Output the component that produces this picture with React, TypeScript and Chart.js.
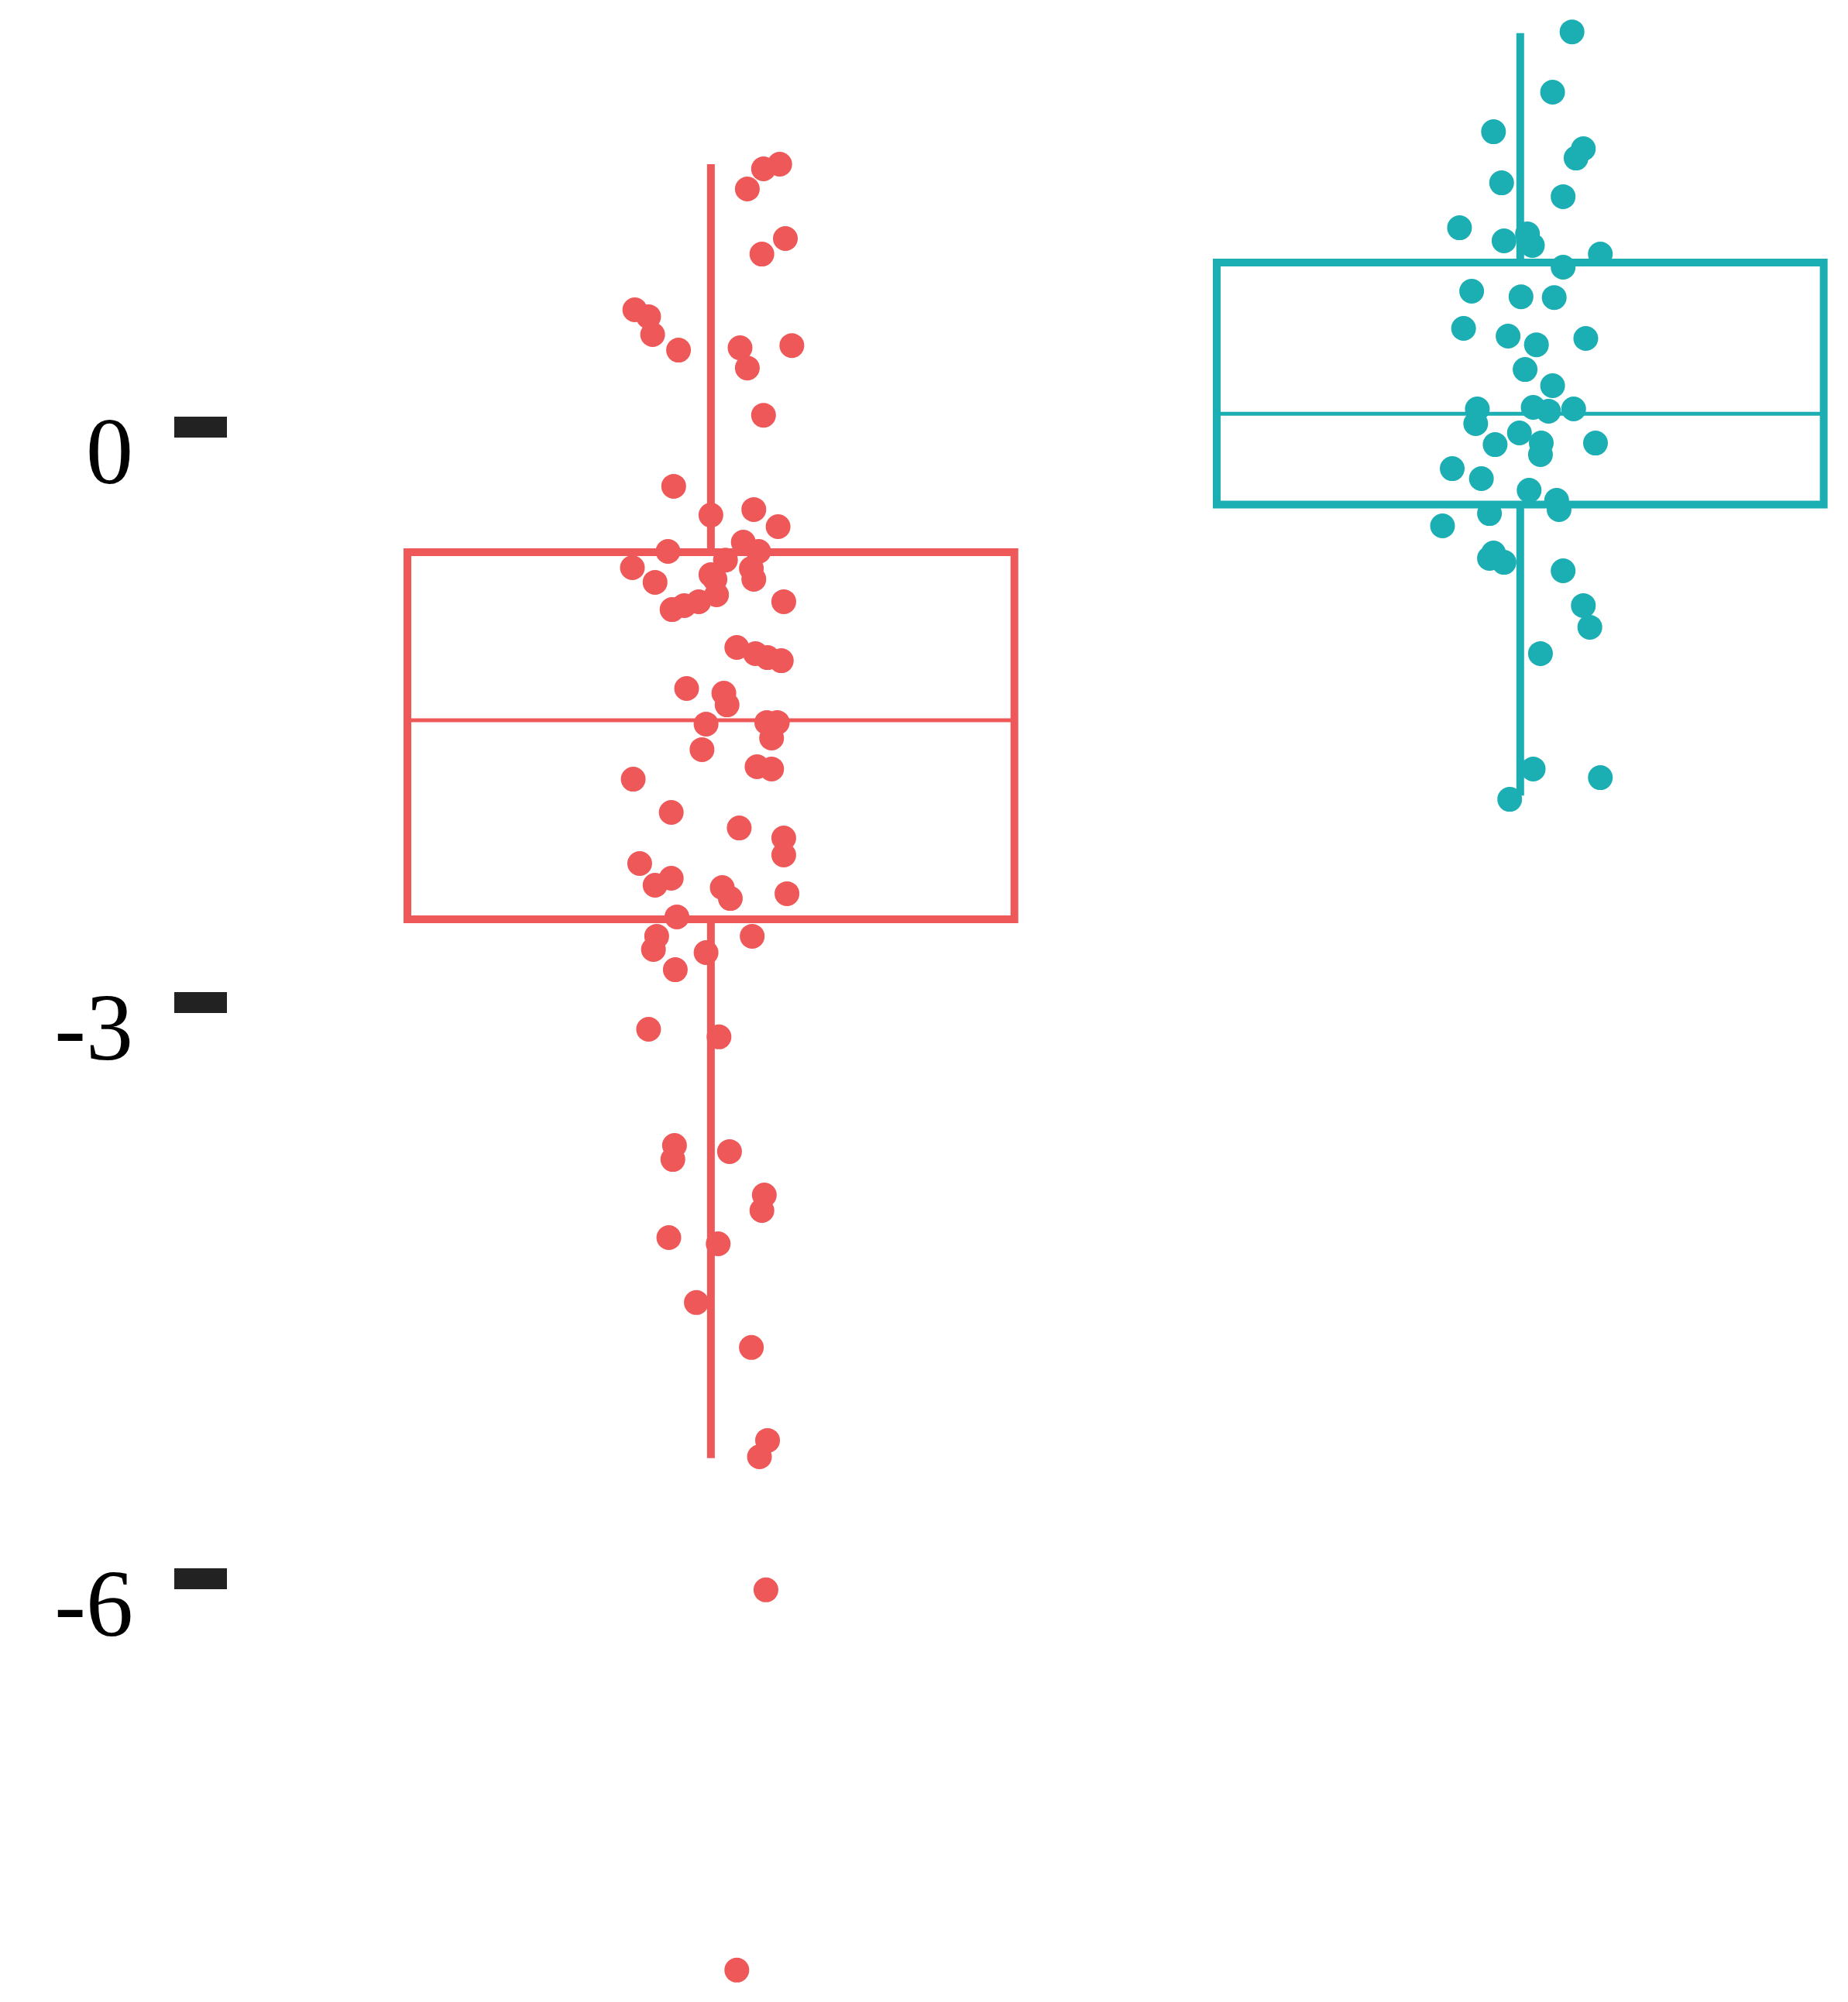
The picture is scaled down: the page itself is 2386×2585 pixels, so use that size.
import React, { useEffect, useRef } from 'react';
import { Chart, registerables } from 'chart.js';

Chart.register(...registerables);

// Group positions on the x axis (two unnamed groups)
const GROUP_POSITIONS = [1, 2];
const BOX_HALF_WIDTH = 0.375;

// Box-plot summary values per group [red, teal]
const Q1 = [-2.565, -0.405];
const MEDIAN = [-1.528, 0.068];
const Q3 = [-0.653, 0.855];
const WHISKER_LOW = [-5.37, -1.92];
const WHISKER_HIGH = [1.367, 2.05];

// Jittered points, red group
const RED_X = [1.085, 1.065, 1.045, 1.092, 1.063, 0.906, 0.923, 0.928, 0.960, 1.036,
  1.045, 1.100, 1.065, 0.954, 1.000, 1.053, 1.083, 0.947, 0.903, 0.931,
  1.040, 1.059, 1.018, 1.005, 1.053, 0.952, 0.967, 0.985, 1.007, 1.090,
  1.032, 1.055, 1.070, 1.087, 0.970, 1.016, 1.020, 0.994, 1.069, 1.082,
  1.075, 0.989, 1.075, 1.057, 0.904, 0.951, 1.035, 1.090, 1.090, 0.912,
  0.931, 0.951, 1.014, 1.024, 1.094, 0.958, 0.933, 0.929, 0.994, 1.051,
  0.956, 0.923, 1.010, 0.955, 0.953, 1.023, 1.066, 1.063, 0.948, 1.009,
  0.982, 1.050, 1.070, 1.060, 1.068, 1.032, 1.050, 1.000];
const RED_Y = [1.367, 1.343, 1.238, 0.980, 0.899, 0.609, 0.573, 0.480, 0.399, 0.411,
  0.306, 0.423, 0.060, -0.310, -0.460, -0.431, -0.520, -0.649, -0.734, -0.810,
  -0.601, -0.649, -0.694, -0.794, -0.794, -0.952, -0.931, -0.911, -0.875, -0.911,
  -1.149, -1.181, -1.202, -1.218, -1.363, -1.387, -1.448, -1.548, -1.540, -1.540,
  -1.621, -1.681, -1.782, -1.770, -1.835, -2.008, -2.089, -2.141, -2.230, -2.274,
  -2.387, -2.351, -2.399, -2.456, -2.431, -2.552, -2.653, -2.722, -2.738, -2.653,
  -2.827, -3.137, -3.177, -3.742, -3.815, -3.774, -4.000, -4.081, -4.222, -4.254,
  -4.560, -4.794, -5.278, -5.363, -6.056, -8.036, -0.738, -0.770];

// Jittered points, teal group
const TEAL_X = [2.064, 2.040, 1.967, 2.078, 2.069, 1.977, 2.053, 1.925, 1.980, 2.009,
  2.015, 2.053, 2.099, 1.940, 2.001, 2.042, 1.930, 1.985, 2.020, 2.081,
  2.006, 2.040, 1.947, 1.945, 2.016, 2.035, 2.066, 1.969, 1.999, 2.026,
  2.025, 2.093, 1.916, 1.952, 2.011, 2.045, 2.048, 1.962, 1.904, 1.967,
  1.980, 1.962, 2.053, 2.078, 2.086, 2.025, 2.016, 2.099, 1.987];
const TEAL_Y = [2.056, 1.742, 1.536, 1.448, 1.399, 1.270, 1.198, 1.036, 0.968, 1.004,
  0.944, 0.831, 0.899, 0.706, 0.677, 0.673, 0.512, 0.472, 0.427, 0.460,
  0.298, 0.214, 0.093, 0.016, 0.101, 0.081, 0.093, -0.093, -0.032, -0.085,
  -0.145, -0.085, -0.218, -0.270, -0.331, -0.383, -0.431, -0.452, -0.516, -0.657,
  -0.706, -0.685, -0.750, -0.931, -1.044, -1.181, -1.782, -1.827, -1.940];

const Y_TICKS = [-6, -3, 0];
const Y_MIN = -8.202;
const Y_MAX = 2.222;
const X_MIN = 0.402;
const X_MAX = 2.405;

const COLORS = ['#EF5858', '#1BAEB3'];

function boxDatasets(i: number) {
  const c = GROUP_POSITIONS[i];
  const l = c - BOX_HALF_WIDTH;
  const r = c + BOX_HALF_WIDTH;
  const color = COLORS[i];
  const base = {
    showLine: true,
    pointRadius: 0,
    pointHoverRadius: 0,
    borderColor: color,
    backgroundColor: color,
    fill: false,
    tension: 0,
    order: 2,
  };
  return [
    {
      ...base,
      data: [
        { x: l, y: Q3[i] }, { x: r, y: Q3[i] }, { x: r, y: Q1[i] },
        { x: l, y: Q1[i] }, { x: l, y: Q3[i] }, { x: r, y: Q3[i] },
      ],
      borderWidth: 10,
      borderJoinStyle: 'miter' as const,
    },
    { ...base, data: [{ x: l, y: MEDIAN[i] }, { x: r, y: MEDIAN[i] }], borderWidth: 5 },
    { ...base, data: [{ x: c, y: Q3[i] }, { x: c, y: WHISKER_HIGH[i] }], borderWidth: 10 },
    { ...base, data: [{ x: c, y: Q1[i] }, { x: c, y: WHISKER_LOW[i] }], borderWidth: 10 },
  ];
}

function pointDataset(xs: number[], ys: number[], color: string) {
  return {
    data: xs.map((x, k) => ({ x, y: ys[k] })),
    showLine: false,
    pointRadius: 16,
    pointHoverRadius: 16,
    pointBorderWidth: 0,
    backgroundColor: color,
    borderColor: color,
    order: 1,
  };
}

export default function App() {
  const ref = useRef<HTMLCanvasElement | null>(null);

  useEffect(() => {
    if (!ref.current) return;
    const chart = new Chart(ref.current, {
      type: 'scatter',
      data: {
        datasets: [
          pointDataset(RED_X, RED_Y, COLORS[0]),
          pointDataset(TEAL_X, TEAL_Y, COLORS[1]),
          ...boxDatasets(0),
          ...boxDatasets(1),
        ] as any,
      },
      options: {
        animation: false,
        responsive: false,
        devicePixelRatio: 1,
        layout: { padding: 0, autoPadding: false },
        plugins: {
          legend: { display: false },
          tooltip: { enabled: false },
          title: { display: false },
        },
        scales: {
          x: {
            type: 'linear',
            display: false,
            min: X_MIN,
            max: X_MAX,
          },
          y: {
            type: 'linear',
            position: 'left',
            min: Y_MIN,
            max: Y_MAX,
            border: { display: false },
            grid: {
              display: true,
              drawOnChartArea: false,
              drawTicks: true,
              tickLength: 68,
              tickWidth: 27,
              tickColor: '#222222',
            },
            ticks: {
              padding: 53,
              labelOffset: 41,
              color: '#000000',
              font: { family: '"Liberation Serif", "Times New Roman", serif', size: 122 },
              callback: (v: any) => String(v),
            },
            afterBuildTicks: (scale: any) => {
              scale.ticks = Y_TICKS.map((v) => ({ value: v }));
            },
            afterFit: (scale: any) => {
              scale.width = 293;
              scale.paddingTop = 0;
              scale.paddingBottom = 0;
            },
          },
        },
      } as any,
    });
    return () => chart.destroy();
  }, []);

  return (
    <div style={{ position: 'absolute', left: 0, top: 0, width: 2386, height: 2585, background: '#ffffff' }}>
      <canvas ref={ref} width={2386} height={2585} style={{ display: 'block', width: 2386, height: 2585 }} />
    </div>
  );
}
